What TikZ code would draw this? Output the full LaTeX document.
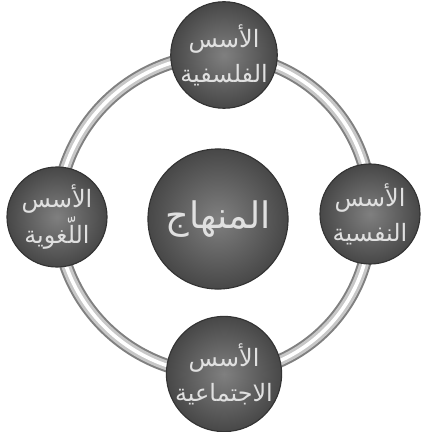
\documentclass[tikz,border=0pt]{standalone}
\usepackage{fontspec}
\usetikzlibrary{backgrounds}
\TeXXeTstate=1
\newfontfamily\arabicfont[Script=Arabic]{DejaVu Sans}
\newcommand{\artxt}[1]{\beginR #1\endR}
\tikzset{
  every picture/.style={line width=0.8pt},
  basis/.style={circle, minimum size=2.5cm, draw=black!80, inner color=black!50, outer color=black!72,
    text=black!12, align=center, inner sep=0pt, font=\arabicfont\fontsize{17}{25}\selectfont},
  core/.style={basis, minimum size=3.5cm, font=\arabicfont\fontsize{26}{30}\selectfont},
  ring/.style={draw=black!50, line width=0.34cm,
    postaction={draw=black!22, line width=0.24cm},
    postaction={draw=white, line width=0.09cm}},
}

\begin{document}
\begin{tikzpicture}[x=0.025cm, y=-0.025cm]
  \useasboundingbox (0,0) rectangle (420,432);
  % the four bases round the ring
  \node[basis] (fal) at (224,55) {\artxt{الأسس}\\\artxt{الفلسفية}};
  \node[basis] (nafs) at (370,214) {\artxt{الأسس}\\\artxt{النفسية}};
  \node[basis] (ijt) at (224,374) {\artxt{الأسس}\\\artxt{الاجتماعية}};
  \node[basis] (lugha) at (57,217) {\artxt{الأسس}\\\artxt{اللّغوية}};
  % middle
  \node[core] (manhaj) at (218,219) {\artxt{المنهاج}};
  \begin{scope}[on background layer]
    \draw[ring] (fal.center) to[bend left=45] (nafs.center) to[bend left=45] (ijt.center)
      to[bend left=45] (lugha.center) to[bend left=45] (fal.center);
  \end{scope}
\end{tikzpicture}
\end{document}
